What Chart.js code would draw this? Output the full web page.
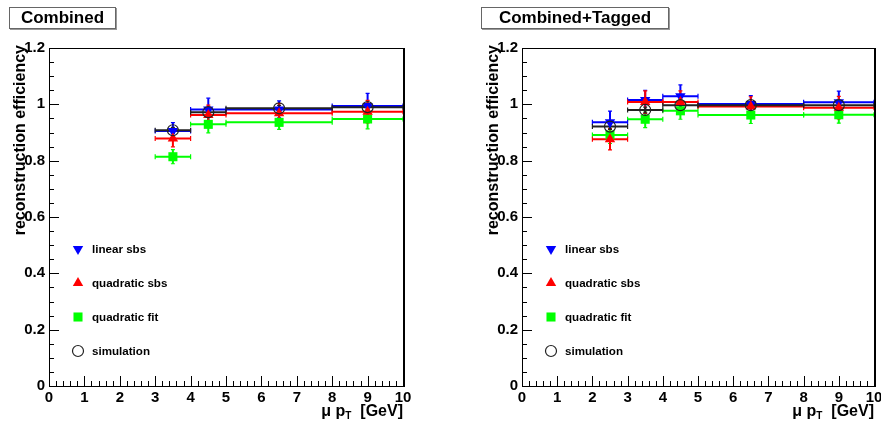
<!DOCTYPE html>
<html>
<head>
<meta charset="utf-8">
<script src="https://cdn.jsdelivr.net/npm/chart.js@4.4.1/dist/chart.umd.min.js"></script>
<style>
  body { margin: 0; background: #fff; width: 881px; height: 422px; overflow: hidden; position: relative; font-family: "Liberation Sans", Arial, sans-serif; }
  canvas { position: absolute; top: 0; }
  #chartA { left: 0; }
  #chartB { left: 440px; }
  .title { position: absolute; top: 7px; height: 20px; border: 1px solid #666; box-shadow: 1px 1px 0 #999; background: #fff;
           font-weight: bold; font-size: 17px; line-height: 20px; text-align: center; color: #000; }
</style>
</head>
<body>
<canvas id="chartA" width="440" height="422"></canvas>
<canvas id="chartB" width="450" height="422"></canvas>
<div class="title" style="left:9px;width:105px">Combined</div>
<div class="title" style="left:481px;width:186px">Combined+Tagged</div>

<script>
// ---- data: "Combined" panel ----
const binsA = [3.5, 4.5, 6.5, 9];
const halfA = [0.5, 0.5, 1.5, 1];
const linearA = [0.905, 0.982, 0.982, 0.994];
const linearErrA = [0.03, 0.04, 0.03, 0.045];
const quadA = [0.879, 0.962, 0.968, 0.974];
const quadErrA = [0.03, 0.035, 0.035, 0.04];
const fitA = [0.814, 0.929, 0.936, 0.948];
const fitErrA = [0.025, 0.03, 0.025, 0.035];
const simA = [0.908, 0.972, 0.986, 0.99];
const simErrA = [0.01, 0.01, 0.01, 0.01];

// ---- data: "Combined+Tagged" panel ----
const binsB = [2.5, 3.5, 4.5, 6.5, 9];
const halfB = [0.5, 0.5, 0.5, 1.5, 1];
const linearB = [0.936, 1.015, 1.029, 1.001, 1.007];
const linearErrB = [0.04, 0.035, 0.04, 0.03, 0.04];
const quadB = [0.876, 1.008, 1.008, 0.992, 0.988];
const quadErrB = [0.038, 0.04, 0.04, 0.035, 0.04];
const fitB = [0.891, 0.947, 0.977, 0.962, 0.963];
const fitErrB = [0.03, 0.03, 0.03, 0.03, 0.03];
const simB = [0.921, 0.980, 0.997, 0.997, 0.997];
const simErrB = [0.01, 0.01, 0.01, 0.01, 0.01];

const seriesNames = ["linear sbs", "quadratic sbs", "quadratic fit", "simulation"];
const yTicks = [0, 0.2, 0.4, 0.6, 0.8, 1, 1.2];

const FONT = "'Liberation Sans', Arial, sans-serif";

// marker style for each series (legend + points)
const styles = [
  { color: "#0000ff", pointStyle: "triangle", rotation: 180, radius: 6, fill: "#0000ff", order: 2 },
  { color: "#ff0000", pointStyle: "triangle", rotation: 0, radius: 6, fill: "#ff0000", order: 1 },
  { color: "#00ff00", pointStyle: "rect", rotation: 0, radius: 6.4, fill: "#00ff00", order: 3 },
  { color: "#222222", pointStyle: "circle", rotation: 0, radius: 5.5, fill: "rgba(0,0,0,0)", order: 0 }
];

function buildDatasets(bins, half, vals, errs) {
  return vals.map((series, i) => ({
    label: seriesNames[i],
    data: series.map((v, j) => ({ x: bins[j], y: v, xe: half[j], ye: errs[i][j] })),
    pointStyle: styles[i].pointStyle,
    rotation: styles[i].rotation,
    pointRadius: styles[i].radius,
    backgroundColor: styles[i].fill,
    borderColor: styles[i].color,
    borderWidth: i === 3 ? 1.2 : 0,
    order: styles[i].order
  }));
}

// ROOT-like frame, ticks, error bars, legend and axis titles
const rootStyle = {
  id: "rootStyle",
  beforeDatasetsDraw(chart) {
    const ctx = chart.ctx;
    const xs = chart.scales.x, ys = chart.scales.y;
    ctx.save();
    chart.data.datasets.slice().sort((a, b) => b.order - a.order).forEach((ds) => {
      ctx.strokeStyle = ds.borderColor;
      ds.data.forEach((p) => {
        const x0 = xs.getPixelForValue(p.x - p.xe), x1 = xs.getPixelForValue(p.x + p.xe);
        const xc = xs.getPixelForValue(p.x);
        const y = ys.getPixelForValue(p.y);
        const yt = ys.getPixelForValue(p.y + p.ye), yb = ys.getPixelForValue(p.y - p.ye);
        ctx.lineWidth = 2;
        ctx.beginPath();
        ctx.moveTo(x0, y); ctx.lineTo(x1, y);
        ctx.moveTo(xc, yt); ctx.lineTo(xc, yb);
        ctx.stroke();
        ctx.lineWidth = 1.2;
        ctx.beginPath();
        ctx.moveTo(x0, y - 2.5); ctx.lineTo(x0, y + 2.5);
        ctx.moveTo(x1, y - 2.5); ctx.lineTo(x1, y + 2.5);
        ctx.moveTo(xc - 2, yt); ctx.lineTo(xc + 2, yt);
        ctx.moveTo(xc - 2, yb); ctx.lineTo(xc + 2, yb);
        ctx.stroke();
      });
    });
    ctx.restore();
  },
  afterDraw(chart) {
    const ctx = chart.ctx;
    const a = chart.chartArea;
    const xs = chart.scales.x, ys = chart.scales.y;
    ctx.save();
    // frame
    ctx.strokeStyle = "#000";
    ctx.lineWidth = 1;
    ctx.strokeRect(Math.round(a.left) + 0.5, Math.round(a.top) + 0.5, Math.round(a.right - a.left), Math.round(a.bottom - a.top));
    ctx.lineWidth = 2;
    ctx.beginPath();
    ctx.moveTo(Math.round(a.right) + 1, a.top); ctx.lineTo(Math.round(a.right) + 1, a.bottom + 1);
    ctx.stroke();

    // ticks inside the frame
    ctx.lineWidth = 1;
    ctx.beginPath();
    for (let k = 0; k <= 24; k++) {
      const y = Math.round(ys.getPixelForValue(k * 0.05)) + 0.5;
      const len = k % 4 === 0 ? 10 : 5;
      ctx.moveTo(a.left, y); ctx.lineTo(a.left + len, y);
    }
    for (let k = 0; k <= 50; k++) {
      const x = Math.round(xs.getPixelForValue(k * 0.2)) + 0.5;
      const len = k % 5 === 0 ? 10 : 5;
      ctx.moveTo(x, a.bottom); ctx.lineTo(x, a.bottom - len);
    }
    ctx.stroke();

    // legend
    const rows = [201, 235, 269, 303];
    ctx.font = "bold 11.6px " + FONT;
    ctx.textBaseline = "middle";
    ctx.textAlign = "left";
    styles.forEach((s, i) => {
      const y = a.top + rows[i];
      ctx.fillStyle = s.fill;
      ctx.strokeStyle = s.color;
      ctx.lineWidth = i === 3 ? 1.2 : 0.01;
      Chart.helpers.drawPoint(ctx, { pointStyle: s.pointStyle, rotation: s.rotation, radius: s.radius, borderWidth: ctx.lineWidth }, a.left + 29, y);
      ctx.fillStyle = "#000";
      ctx.fillText(seriesNames[i], a.left + 43, y + 1);
    });

    // y title
    ctx.save();
    ctx.translate(a.left - 24, a.top - 3);
    ctx.rotate(-Math.PI / 2);
    ctx.font = "bold 16px " + FONT;
    ctx.textAlign = "right";
    ctx.textBaseline = "alphabetic";
    ctx.fillStyle = "#000";
    ctx.fillText("reconstruction efficiency", 0, 0);
    ctx.restore();

    // x title: μ p_T  [GeV]
    ctx.fillStyle = "#000";
    ctx.textBaseline = "alphabetic";
    ctx.textAlign = "left";
    const big = "bold 16px " + FONT, small = "bold 10px " + FONT;
    ctx.font = big;
    const w1 = ctx.measureText("\u03bc p").width;
    const w3 = ctx.measureText("  [GeV]").width;
    ctx.font = small;
    const w2 = ctx.measureText("T").width;
    const base = a.bottom + 30;
    let x = a.right - (w1 + w2 + w3);
    ctx.font = big;
    ctx.fillText("\u03bc p", x, base);
    ctx.font = small;
    ctx.fillText("T", x + w1, base + 3);
    ctx.font = big;
    ctx.fillText("  [GeV]", x + w1 + w2, base);
    ctx.restore();
  }
};

function makePanel(id, bins, half, vals, errs, yAxisWidth, rightPad) {
  return new Chart(document.getElementById(id), {
    type: "scatter",
    data: { datasets: buildDatasets(bins, half, vals, errs) },
    options: {
      responsive: false,
      animation: false,
      events: [],
      layout: { padding: { top: 48, right: rightPad, bottom: 0, left: 0 } },
      plugins: { legend: { display: false }, tooltip: { enabled: false } },
      scales: {
        x: {
          type: "linear", min: 0, max: 10,
          afterFit(scale) { scale.height = 36; },
          grid: { display: false, drawTicks: false },
          border: { display: false },
          ticks: { stepSize: 1, padding: 3, color: "#000", font: { family: FONT, weight: "bold", size: 15 } }
        },
        y: {
          type: "linear", min: 0, max: 1.2,
          afterFit(scale) { scale.width = yAxisWidth; },
          afterBuildTicks(scale) { scale.ticks = yTicks.map((v) => ({ value: v })); },
          grid: { display: false, drawTicks: false },
          border: { display: false },
          ticks: {
            padding: 4, color: "#000", font: { family: FONT, weight: "bold", size: 15 },
            callback: (v) => String(Math.round(v * 10) / 10)
          }
        }
      }
    },
    plugins: [rootStyle]
  });
}

makePanel("chartA", binsA, halfA, [linearA, quadA, fitA, simA], [linearErrA, quadErrA, fitErrA, simErrA], 49, 37);
makePanel("chartB", binsB, halfB, [linearB, quadB, fitB, simB], [linearErrB, quadErrB, fitErrB, simErrB], 82, 16);
</script>
</body>
</html>
